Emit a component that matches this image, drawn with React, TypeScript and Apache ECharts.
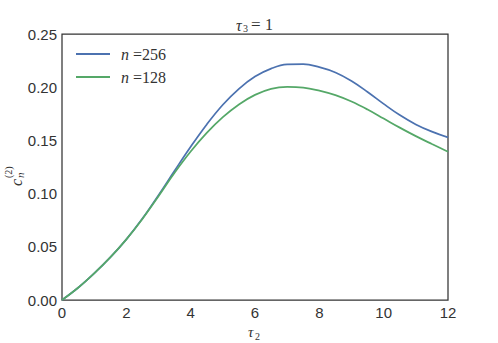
import React, { useEffect, useRef } from "react";
import * as echarts from "echarts";

const tau2 = [0, 0.5, 1, 1.5, 2, 2.5, 3, 3.5, 4, 4.5, 5, 5.5, 6, 6.5, 7, 7.5, 8, 8.5, 9, 9.5, 10, 10.5, 11, 11.5, 12];
const c256 = [0, 0.0115, 0.025, 0.040, 0.057, 0.0765, 0.0985, 0.1215, 0.144, 0.165, 0.1835, 0.1985, 0.21, 0.2175, 0.2214, 0.2217, 0.2188, 0.2138, 0.2058, 0.1955, 0.1843, 0.1738, 0.165, 0.1582, 0.1528];
const c128 = [0, 0.0115, 0.025, 0.040, 0.057, 0.0762, 0.0975, 0.1195, 0.1395, 0.157, 0.1718, 0.1838, 0.1928, 0.1985, 0.2003, 0.1997, 0.1968, 0.1925, 0.1865, 0.179, 0.1705, 0.162, 0.154, 0.1466, 0.1394];
const seriesNames = ["256", "128"];
const xTicks = { min: 0, max: 12, interval: 2 };
const yTicks = { min: 0, max: 0.25, interval: 0.05 };

export default function App() {
  const ref = useRef<HTMLDivElement>(null);
  useEffect(() => {
    if (!ref.current) return;
    const chart = echarts.init(ref.current, null, { renderer: "svg" });
    const serif = "Liberation Serif";
    const sans = "Liberation Sans";
    const mk = (ys: number[]) => tau2.map((t, i) => [t, ys[i]]);
    chart.setOption({
      animation: false,
      backgroundColor: "#fff",
      grid: { left: 62, right: 50, top: 34, bottom: 43, show: true, borderColor: "#333", borderWidth: 1.25, backgroundColor: "transparent" },
      xAxis: {
        type: "value", min: xTicks.min, max: xTicks.max, interval: xTicks.interval,
        axisLine: { show: false }, axisTick: { show: false }, splitLine: { show: false },
        axisLabel: { color: "#333", fontFamily: sans, fontSize: 15, margin: 5 },
      },
      yAxis: {
        type: "value", min: yTicks.min, max: yTicks.max, interval: yTicks.interval,
        axisLine: { show: false }, axisTick: { show: false }, splitLine: { show: false },
        axisLabel: { color: "#333", fontFamily: sans, fontSize: 15, margin: 5, formatter: (v: number) => v.toFixed(2) },
      },
      legend: {
        orient: "vertical", left: 71, top: 41, itemWidth: 34, itemHeight: 10, itemGap: 7,
        icon: "path://M0,4 L34,4 L34,6 L0,6 Z",
        data: seriesNames.map((n) => "n=" + n),
        formatter: (name: string) => "{i|n}{r| =" + name.slice(2) + "}",
        textStyle: {
          color: "#333", fontSize: 16, fontFamily: serif, padding: [0, 0, 0, 6],
          rich: {
            i: { fontFamily: serif, fontStyle: "italic", fontSize: 16, color: "#333" },
            r: { fontFamily: serif, fontSize: 16, color: "#333" },
          },
        },
      },
      series: [
        { name: "n=" + seriesNames[0], type: "line", data: mk(c256), showSymbol: false, smooth: 0.4, lineStyle: { color: "#4C72B0", width: 1.75 }, itemStyle: { color: "#4C72B0" } },
        { name: "n=" + seriesNames[1], type: "line", data: mk(c128), showSymbol: false, smooth: 0.4, lineStyle: { color: "#55A868", width: 1.75 }, itemStyle: { color: "#55A868" } },
      ],
      graphic: [
        { type: "text", left: 236, top: 17, style: { text: "τ", font: "italic 16px " + serif, fill: "#333" } },
        { type: "text", left: 243, top: 23, style: { text: "3", font: "10px " + serif, fill: "#333" } },
        { type: "text", left: 251, top: 16, style: { text: "=", font: "17px " + serif, fill: "#333" } },
        { type: "text", left: 265, top: 16, style: { text: "1", font: "16px " + serif, fill: "#333" } },
        { type: "text", left: 248, top: 324, style: { text: "τ", font: "italic 15px " + serif, fill: "#333" } },
        { type: "text", left: 255, top: 331, style: { text: "2", font: "10px " + serif, fill: "#333" } },
        {
          type: "group", x: 16, y: 186, rotation: Math.PI / 2,
          children: [
            { type: "text", x: 0, y: 0, style: { text: "c", font: "italic 16px " + serif, fill: "#333", textVerticalAlign: "middle" } },
            { type: "text", x: 8, y: 4, style: { text: "n", font: "italic 11px " + serif, fill: "#333", textVerticalAlign: "middle" } },
            { type: "text", x: 8, y: -8, style: { text: "(2)", font: "10px " + serif, fill: "#333", textVerticalAlign: "middle" } },
          ],
        },
      ],
    });
    return () => chart.dispose();
  }, []);
  return <div ref={ref} style={{ width: 498, height: 343, position: "absolute", left: 0, top: 0 }} />;
}
